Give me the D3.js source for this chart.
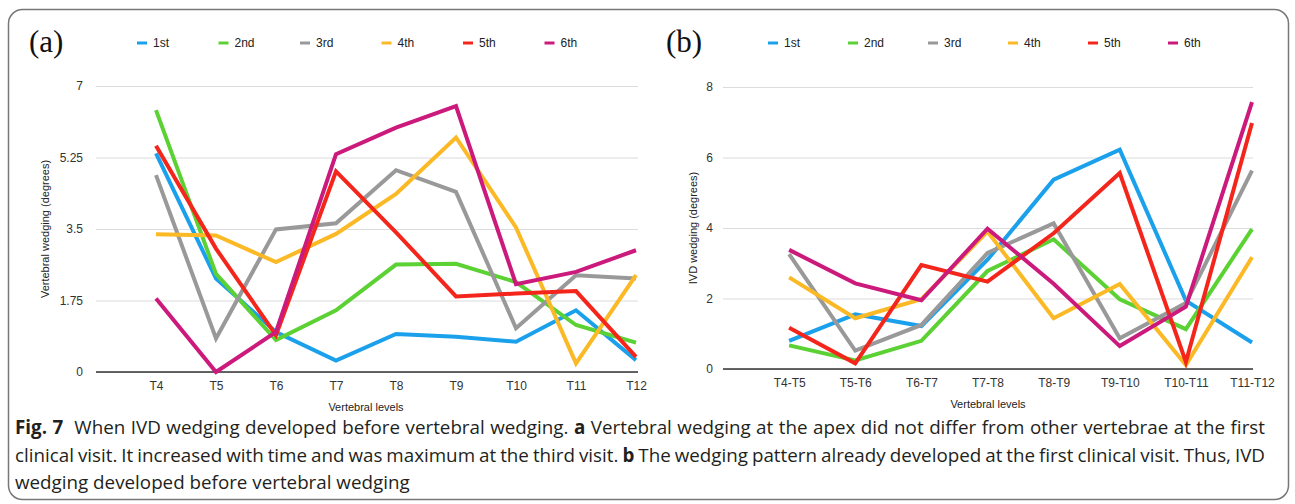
<!DOCTYPE html>
<html>
<head>
<meta charset="utf-8">
<script src="https://cdn.jsdelivr.net/npm/d3@7"></script>
<style>
    body { margin: 0; background: #fff; }
    svg { display: block; }
</style>
</head>
<body>
<svg id="workspace" width="1295" height="504"></svg>
<script>
/*
 * Fig. 7 - vertebral and IVD wedging per clinical visit
 */

var visits = ["1st", "2nd", "3rd", "4th", "5th", "6th"];
var visitColors = ["#1ba1ec", "#5cd134", "#999999", "#fbb926", "#f4261c", "#cb1a7c"];

// panel (a) - vertebral wedging
var levelsA = ["T4", "T5", "T6", "T7", "T8", "T9", "T10", "T11", "T12"];
var ticksA = [0, 1.75, 3.5, 5.25, 7];
var vert1st = [5.35, 2.29, 0.98, 0.28, 0.93, 0.86, 0.74, 1.51, 0.29];
var vert2nd = [6.41, 2.40, 0.78, 1.51, 2.63, 2.65, 2.20, 1.15, 0.72];
var vert3rd = [4.82, 0.82, 3.49, 3.64, 4.94, 4.41, 1.07, 2.37, 2.29];
var vert4th = [3.37, 3.34, 2.69, 3.38, 4.36, 5.74, 3.54, 0.21, 2.37];
var vert5th = [5.54, 3.02, 0.90, 4.91, 3.42, 1.85, 1.92, 1.98, 0.37];
var vert6th = [1.80, 0.00, 0.98, 5.33, 5.98, 6.51, 2.15, 2.45, 2.98];

// panel (b) - IVD wedging
var levelsB = ["T4-T5", "T5-T6", "T6-T7", "T7-T8", "T8-T9", "T9-T10", "T10-T11", "T11-T12"];
var ticksB = [0, 2, 4, 6, 8];
var ivd1st = [0.80, 1.55, 1.22, 3.10, 5.37, 6.22, 1.94, 0.75];
var ivd2nd = [0.67, 0.24, 0.80, 2.78, 3.68, 1.98, 1.13, 3.97];
var ivd3rd = [3.26, 0.52, 1.25, 3.29, 4.13, 0.87, 1.87, 5.63];
var ivd4th = [2.60, 1.44, 1.98, 3.90, 1.44, 2.41, 0.11, 3.17];
var ivd5th = [1.17, 0.16, 2.95, 2.48, 3.85, 5.56, 0.20, 6.98];
var ivd6th = [3.38, 2.43, 1.95, 3.98, 2.42, 0.65, 1.77, 7.57];

var captionLines = [
    [["Fig. 7", true], ["  When IVD wedging developed before vertebral wedging. ", false], ["a", true],
     [" Vertebral wedging at the apex did not differ from other vertebrae at the first", false]],
    [["clinical visit. It increased with time and was maximum at the third visit. ", false], ["b", true],
     [" The wedging pattern already developed at the first clinical visit. Thus, IVD", false]],
    [["wedging developed before vertebral wedging", false]]
];

var CHART_FONT = "'Liberation Sans', Arial, sans-serif";

/**
 * Draw one line chart panel
 * @param {Object} cfg - panel layout and data
 */
function drawPanel(cfg) {
    var svg = d3.select("#workspace");
    var g = svg.append("g").attr("class", "panel-" + cfg.tag);

    var step = (cfg.right - cfg.left) / cfg.levels.length;
    var x = d3.scalePoint()
        .domain(cfg.levels)
        .range([cfg.left + step, cfg.right]);
    var y = d3.scaleLinear()
        .domain([0, cfg.ticks[cfg.ticks.length - 1]])
        .range([cfg.bottom, cfg.top]);

    // panel letter
    g.append("text")
        .attr("x", cfg.letterX)
        .attr("y", 52)
        .style("font-family", "'Liberation Serif', 'Times New Roman', serif")
        .style("font-size", "31px")
        .style("fill", "#111")
        .text("(" + cfg.tag + ")");

    // legend
    var legend = g.selectAll(".legend-item")
        .data(visits)
        .enter().append("g")
        .attr("class", "legend-item")
        .attr("transform", function (d, i) { return "translate(" + (cfg.legendX + i * cfg.legendStep) + ",43)"; });
    legend.append("line")
        .attr("x1", 0).attr("x2", 10)
        .style("stroke", function (d, i) { return visitColors[i]; })
        .style("stroke-width", 3);
    legend.append("text")
        .attr("x", 16)
        .attr("y", 4)
        .style("font-family", CHART_FONT)
        .style("font-size", "12px")
        .style("fill", "#222")
        .text(function (d) { return d; });

    // grid + y axis
    var yAxis = d3.axisLeft(y)
        .tickValues(cfg.ticks)
        .tickSize(-(cfg.gridRight - cfg.left))
        .tickPadding(cfg.tickPad)
        .tickFormat(function (d) { return d; });
    var ya = g.append("g")
        .attr("transform", "translate(" + cfg.left + ",0)")
        .call(yAxis);
    ya.select(".domain").remove();
    ya.selectAll(".tick line").style("stroke", "#dcdcdc").style("stroke-width", 1.2);
    ya.selectAll(".tick text")
        .style("font-family", CHART_FONT)
        .style("font-size", "12px")
        .style("fill", "#333");

    // x axis
    var xAxis = d3.axisBottom(x).tickSize(0).tickPadding(9);
    var xa = g.append("g")
        .attr("transform", "translate(0," + cfg.bottom + ")")
        .call(xAxis);
    xa.select(".domain").remove();
    xa.selectAll(".tick text")
        .style("font-family", CHART_FONT)
        .style("font-size", "12px")
        .style("fill", "#333");
    g.append("line")
        .attr("x1", cfg.left).attr("x2", cfg.gridRight)
        .attr("y1", cfg.bottom).attr("y2", cfg.bottom)
        .style("stroke", "#333")
        .style("stroke-width", 1.6);

    // axis titles
    g.append("text")
        .attr("transform", "translate(" + cfg.yTitleX + "," + ((cfg.top + cfg.bottom) / 2) + ") rotate(-90)")
        .attr("text-anchor", "middle")
        .style("font-family", CHART_FONT)
        .style("font-size", "11px")
        .style("fill", "#222")
        .text(cfg.yTitle);
    g.append("text")
        .attr("x", (cfg.left + cfg.gridRight) / 2 + cfg.xTitleShift)
        .attr("y", cfg.bottom + 39)
        .attr("text-anchor", "middle")
        .style("font-family", CHART_FONT)
        .style("font-size", "11px")
        .style("fill", "#222")
        .text("Vertebral levels");

    // series lines
    var line = d3.line()
        .x(function (d, i) { return x(cfg.levels[i]); })
        .y(function (d) { return y(d); });
    g.selectAll(".series")
        .data(cfg.series)
        .enter().append("path")
        .attr("class", "series")
        .attr("d", line)
        .style("fill", "none")
        .style("stroke", function (d, i) { return visitColors[i]; })
        .style("stroke-width", 4)
        .style("stroke-linejoin", "miter");
}

/**
 * Draw the figure caption, justified like the printed page
 * (last line left ragged)
 */
function drawCaption() {
    var svg = d3.select("#workspace");
    var justifyWidth = 1250;
    var baselines = [434, 462, 489];
    var fontSize = 18.8;

    captionLines.forEach(function (parts, li) {
        var t = svg.append("text")
            .attr("x", 15)
            .attr("y", baselines[li])
            .style("font-family", "'Open Sans', 'Noto Sans', sans-serif")
            .style("font-size", fontSize + "px")
            .style("fill", "#231f20")
            .attr("xml:space", "preserve");
        parts.forEach(function (p) {
            t.append("tspan")
                .style("font-weight", p[1] ? "bold" : "normal")
                .text(p[0]);
        });
        if (li === captionLines.length - 1) return;

        var natural = t.node().getComputedTextLength();
        if (natural > justifyWidth + 30) {
            t.attr("textLength", justifyWidth).attr("lengthAdjust", "spacingAndGlyphs");
        } else {
            var full = parts.map(function (p) { return p[0]; }).join("");
            var gaps = full.split(" ").length - 1;
            t.style("word-spacing", ((justifyWidth - natural) / gaps) + "px");
        }
    });
}

var svg = d3.select("#workspace");
svg.append("rect")
    .attr("x", 8.5).attr("y", 9.5)
    .attr("width", 1280).attr("height", 490)
    .attr("rx", 14)
    .style("fill", "#fff")
    .style("stroke", "#777")
    .style("stroke-width", 1.5);

drawPanel({
    tag: "a", letterX: 29, legendX: 137, legendStep: 81.5,
    levels: levelsA, ticks: ticksA,
    series: [vert1st, vert2nd, vert3rd, vert4th, vert5th, vert6th],
    left: 96, right: 636, gridRight: 638, top: 86, bottom: 372,
    tickPad: 13, yTitleX: 49, yTitle: "Vertebral wedging (degrees)", xTitleShift: -1
});

drawPanel({
    tag: "b", letterX: 666, legendX: 768, legendStep: 80,
    levels: levelsB, ticks: ticksB,
    series: [ivd1st, ivd2nd, ivd3rd, ivd4th, ivd5th, ivd6th],
    left: 723, right: 1252, gridRight: 1253, top: 87, bottom: 369,
    tickPad: 10, yTitleX: 697, yTitle: "IVD wedging (degrees)", xTitleShift: 0
});

drawCaption();
</script>
</body>
</html>
